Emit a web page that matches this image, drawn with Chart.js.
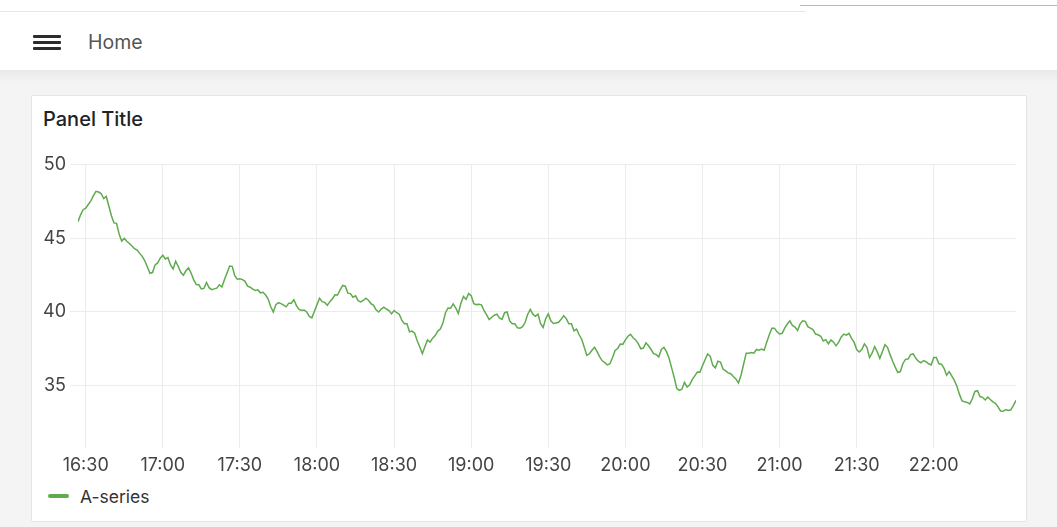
<!DOCTYPE html>
<html>
<head>
<meta charset="utf-8">
<script src="https://cdn.jsdelivr.net/npm/chart.js@4/dist/chart.umd.min.js"></script>
<style>
  html, body { margin: 0; padding: 0; }
  body {
    width: 1057px; height: 527px; overflow: hidden; position: relative;
    background: #f4f4f4; font-family: Inter, "Noto Sans", sans-serif;
  }
  #topbar {
    position: absolute; left: 0; top: 0; width: 1057px; height: 70px; background: #fff;
  }
  #topline { position: absolute; left: 0; top: 11px; width: 806px; height: 1px; background: #e6e6e6; }
  #topline2 { position: absolute; left: 800px; top: 5px; width: 257px; height: 1px; background: #b9b9b9; }
  #shadow {
    position: absolute; left: 0; top: 70px; width: 1057px; height: 12px;
    background: linear-gradient(#e9e9e9, #f4f4f4);
  }
  #menu { position: absolute; left: 33px; top: 35px; width: 28px; height: 16px; }
  #menu span { position: absolute; left: 0; width: 28px; height: 3px; background: #2c2c2c; border-radius: 1px; }
  #home { position: absolute; left: 88px; top: 30px; font-size: 19.5px; color: #555; line-height: 24px; }
  #panel {
    position: absolute; left: 31px; top: 95px; width: 994px; height: 425px;
    background: #fff; border: 1px solid #e4e4e4; border-radius: 2px;
  }
  #title {
    position: absolute; left: 43px; top: 106px; font-size: 20px; font-weight: 500;
    color: #222; line-height: 26px;
  }
  #wrap { position: absolute; left: 31px; top: 150px; width: 996px; height: 330px; }
  #legend { position: absolute; left: 48px; top: 484px; height: 24px; display: flex; align-items: center; }
  #legend .sw { width: 21px; height: 4px; border-radius: 2px; margin-right: 11px; }
  #legend .tx { font-size: 17.5px; color: #333; }
</style>
</head>
<body>
<div id="topbar"></div>
<div id="topline"></div>
<div id="topline2"></div>
<div id="shadow"></div>
<div id="menu"><span style="top:0"></span><span style="top:6px"></span><span style="top:12px"></span></div>
<div id="home">Home</div>
<div id="panel"></div>
<div id="title">Panel Title</div>
<div id="wrap"><canvas id="chart" width="996" height="330"></canvas></div>
<div id="legend"></div>

<script>
// One sample per minute, starting at this clock time
const startTime = "16:27";
const seriesName = "A-series";
const seriesColor = "#5fab4d";

const values = [
  46.13, 46.6, 46.95, 47.05, 47.3, 47.55, 47.9, 48.2, 48.15, 48.05,
  47.7, 47.85, 47.2, 46.54, 46.05, 46.02, 45.3, 44.82, 45.0, 44.8,
  44.65, 44.48, 44.3, 44.2, 43.98, 43.78, 43.48, 43.05, 42.63, 42.68,
  43.2, 43.33, 43.65, 43.85, 43.6, 43.7, 43.2, 42.92, 43.45, 43.1,
  42.7, 42.5, 42.8, 43.0, 42.65, 42.2, 41.87, 41.85, 41.57, 41.6,
  42.0, 41.65, 41.52, 41.57, 41.62, 41.85, 41.7, 42.2, 42.65, 43.12,
  43.1, 42.47, 42.22, 42.25, 42.2, 42.08, 41.75, 41.68, 41.55, 41.46,
  41.5, 41.3, 41.34, 41.15, 40.88, 40.35, 40.0, 40.5, 40.63, 40.57,
  40.47, 40.35, 40.6, 40.6, 40.83, 40.43, 40.18, 40.1, 40.13, 40.0,
  39.7, 39.6, 40.05, 40.5, 40.93, 40.7, 40.65, 40.45, 40.7, 40.9,
  41.17, 41.15, 41.5, 41.8, 41.75, 41.28, 41.25, 41.0, 41.1, 40.77,
  40.68, 40.78, 40.94, 40.8, 40.57, 40.45, 40.15, 40.0, 40.2, 40.32,
  40.2, 40.1, 39.87, 40.1, 39.95, 39.85, 39.45, 39.2, 39.2, 38.65,
  38.7, 38.55, 38.05, 37.62, 37.17, 37.65, 38.1, 37.95, 38.22, 38.4,
  38.7, 38.84, 39.25, 39.95, 40.27, 40.26, 40.55, 40.27, 39.9, 40.6,
  41.05, 40.85, 41.25, 41.1, 40.57, 40.5, 40.53, 40.48, 40.1, 39.8,
  39.48, 39.64, 39.78, 39.85, 39.6, 39.5, 39.95, 40.0, 39.38, 39.2,
  39.2, 38.92, 38.9, 39.0, 39.3, 39.85, 40.18, 39.85, 39.7, 39.85,
  39.2, 38.95, 39.55, 39.87, 39.4, 39.22, 39.25, 39.3, 39.5, 39.75,
  39.55, 39.2, 39.2, 38.72, 38.84, 38.45, 38.15, 37.6, 37.05, 37.16,
  37.4, 37.6, 37.3, 36.95, 36.68, 36.56, 36.4, 36.48, 36.9, 37.38,
  37.52, 37.82, 37.8, 38.1, 38.35, 38.48, 38.25, 38.1, 37.85, 37.5,
  37.55, 37.9, 37.7, 37.45, 37.17, 37.1, 36.95, 37.45, 37.6, 37.3,
  36.85, 36.2, 35.55, 34.8, 34.67, 34.75, 35.22, 34.9, 35.05, 35.4,
  35.66, 35.92, 35.9, 36.35, 36.75, 37.15, 37.0, 36.37, 36.2, 36.65,
  36.6, 36.12, 36.0, 35.86, 35.8, 35.62, 35.45, 35.17, 35.7, 36.45,
  37.2, 37.2, 37.25, 37.2, 37.45, 37.4, 37.48, 37.4, 37.95, 38.45,
  38.9, 38.9, 38.65, 38.5, 38.55, 38.9, 39.18, 39.4, 39.08, 38.97,
  38.74, 39.19, 39.4, 39.36, 39.0, 38.9, 38.8, 38.5, 38.45, 38.35,
  38.03, 38.12, 37.84, 38.1, 37.95, 37.7, 37.95, 38.3, 38.5, 38.42,
  38.55, 38.2, 37.95, 37.45, 37.28, 37.45, 37.83, 37.6, 36.9, 37.2,
  37.65, 37.3, 36.85, 37.3, 37.78, 37.6, 37.1, 36.65, 36.25, 35.88,
  35.95, 36.5, 36.78, 36.8, 37.1, 37.15, 36.85, 36.65, 36.55, 36.7,
  36.62, 36.48, 36.4, 36.9, 36.9, 36.48, 36.45, 36.17, 35.7, 35.95,
  35.65, 35.35, 34.95, 34.4, 33.96, 33.9, 33.85, 33.75, 34.1, 34.6,
  34.65, 34.25, 34.2, 34.02, 34.22, 34.05, 33.89, 33.8, 33.55, 33.27,
  33.25, 33.37, 33.3, 33.35, 33.65, 34.0
];

const xTickLabels = ["16:30", "17:00", "17:30", "18:00", "18:30", "19:00",
                     "19:30", "20:00", "20:30", "21:00", "21:30", "22:00"];
const yTickValues = [35, 40, 45, 50];
const yMin = 31.3, yMax = 50;

function toMinutes(hhmm) {
  const [h, m] = hhmm.split(":").map(Number);
  return h * 60 + m;
}
function toClock(min) {
  const h = Math.floor(min / 60), m = Math.round(min % 60);
  return String(h).padStart(2, "0") + ":" + String(m).padStart(2, "0");
}

const t0 = toMinutes(startTime);
const points = values.map((v, i) => ({ x: t0 + i, y: v }));
const xTicks = xTickLabels.map(toMinutes);

const tickFont = { family: "Inter, 'Noto Sans', sans-serif", size: 18 };
const gridColor = "#ececec";

new Chart(document.getElementById("chart"), {
  type: "line",
  data: {
    datasets: [{
      label: seriesName,
      data: points,
      borderColor: seriesColor,
      borderWidth: 1.5,
      pointRadius: 0,
      tension: 0,
      fill: false
    }]
  },
  options: {
    responsive: false,
    animation: false,
    layout: { padding: { top: 14, right: 11, left: 0, bottom: 0 } },
    plugins: { legend: { display: false }, tooltip: { enabled: false } },
    scales: {
      x: {
        type: "linear",
        min: t0,
        max: t0 + values.length - 1,
        afterBuildTicks: s => { s.ticks = xTicks.map(v => ({ value: v })); },
        afterFit: s => { s.height = 40; },
        ticks: { callback: v => toClock(v), color: "#444", font: tickFont, padding: 7, maxRotation: 0, autoSkip: false },
        grid: { color: gridColor, tickLength: 8, tickColor: gridColor },
        border: { display: false }
      },
      y: {
        min: yMin,
        max: yMax,
        afterBuildTicks: s => { s.ticks = yTickValues.map(v => ({ value: v })); },
        afterFit: s => { s.width = 47; },
        ticks: { color: "#444", font: tickFont, padding: 4 },
        grid: { color: gridColor, tickLength: 8, tickColor: gridColor },
        border: { display: false }
      }
    }
  }
});

// Legend row below the plot
const legend = document.getElementById("legend");
legend.innerHTML = '<div class="sw" style="background:' + seriesColor + '"></div><div class="tx">' + seriesName + '</div>';
</script>
</body>
</html>
